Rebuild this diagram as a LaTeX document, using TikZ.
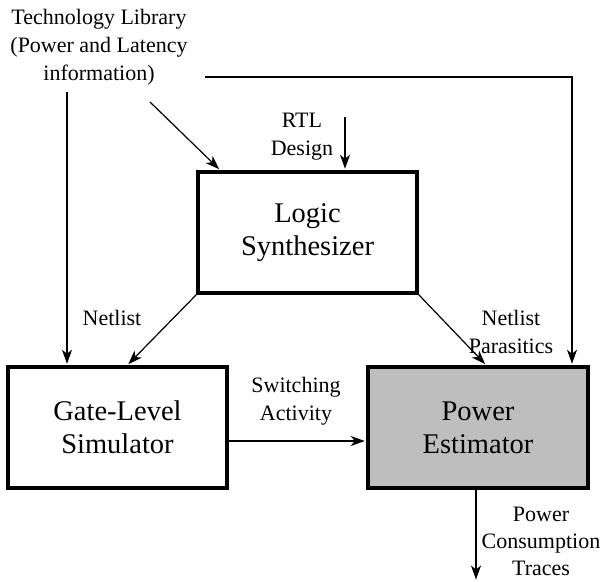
\documentclass[tikz,border=0pt]{standalone}
\usepackage{fontspec}
\setmainfont{Liberation Serif}
\usetikzlibrary{arrows.meta,calc}
\definecolor{boxgray}{RGB}{190,190,190}
\begin{document}
\begin{tikzpicture}[x=1pt,y=-1pt,
  box/.style={draw, line width=3.5pt, minimum width=219pt, minimum height=121pt, inner sep=0,
    align=center, font=\fontsize{28.5}{33}\selectfont},
  lbl/.style={font=\fontsize{22}{28}\selectfont, align=center, inner sep=0},
  conn/.style={line width=1.2pt, shorten >=1.5pt, -{Stealth[length=14pt,width=10pt,inset=4pt]}},
  wire/.style={line width=1.2pt}
]
\useasboundingbox (0,0) rectangle (609,581);

\node[lbl] (lib) at (99,47) {Technology Library\\(Power and Latency\\information)};
\node[box] (logic) at (307.5,232.5) {Logic\\Synthesizer};
\node[box] (gate) at (117.5,427.5) {Gate-Level\\Simulator};
\node[box, fill=boxgray, minimum width=220pt] (power) at (478,427.5) {Power\\Estimator};

\node[lbl] (rtl) at (302,137) {RTL\\Design};
\node[lbl] (netlist) at (112,318) {Netlist};
\node[lbl] (parasitics) at (511,332) {Netlist\\Parasitics};
\node[lbl] (switch) at (296,401) {Switching\\Activity};
\node[lbl, font=\fontsize{22}{27}\selectfont] (traces) at (541,541) {Power\\Consumption\\Traces};

\coordinate (libL) at (67,92);
\coordinate (libD) at (150,102);
\coordinate (libR) at (205,77);
\coordinate (corner) at (572,77);
\coordinate (rtlIn) at (345,117);
\coordinate (out) at (476,581);

\draw[conn] (libL) -- (libL |- gate.north);
\draw[conn] (libD) -- ($(logic.north west)+(24,0)$);
\draw[conn] (libR) -- (corner) -- (corner |- power.north);
\draw[conn] (rtlIn) -- (rtlIn |- logic.north);
\draw[conn] (logic.south west) -- ($(gate.north west)+(121,0)$);
\draw[conn] (logic.south east) -- ($(power.north west)+(120,0)$);
\draw[conn] ($(gate.east)+(0,13.5)$) -- ($(power.west)+(0,13.5)$);
\draw[conn] (power.south -| out) -- (out);
\end{tikzpicture}
\end{document}
